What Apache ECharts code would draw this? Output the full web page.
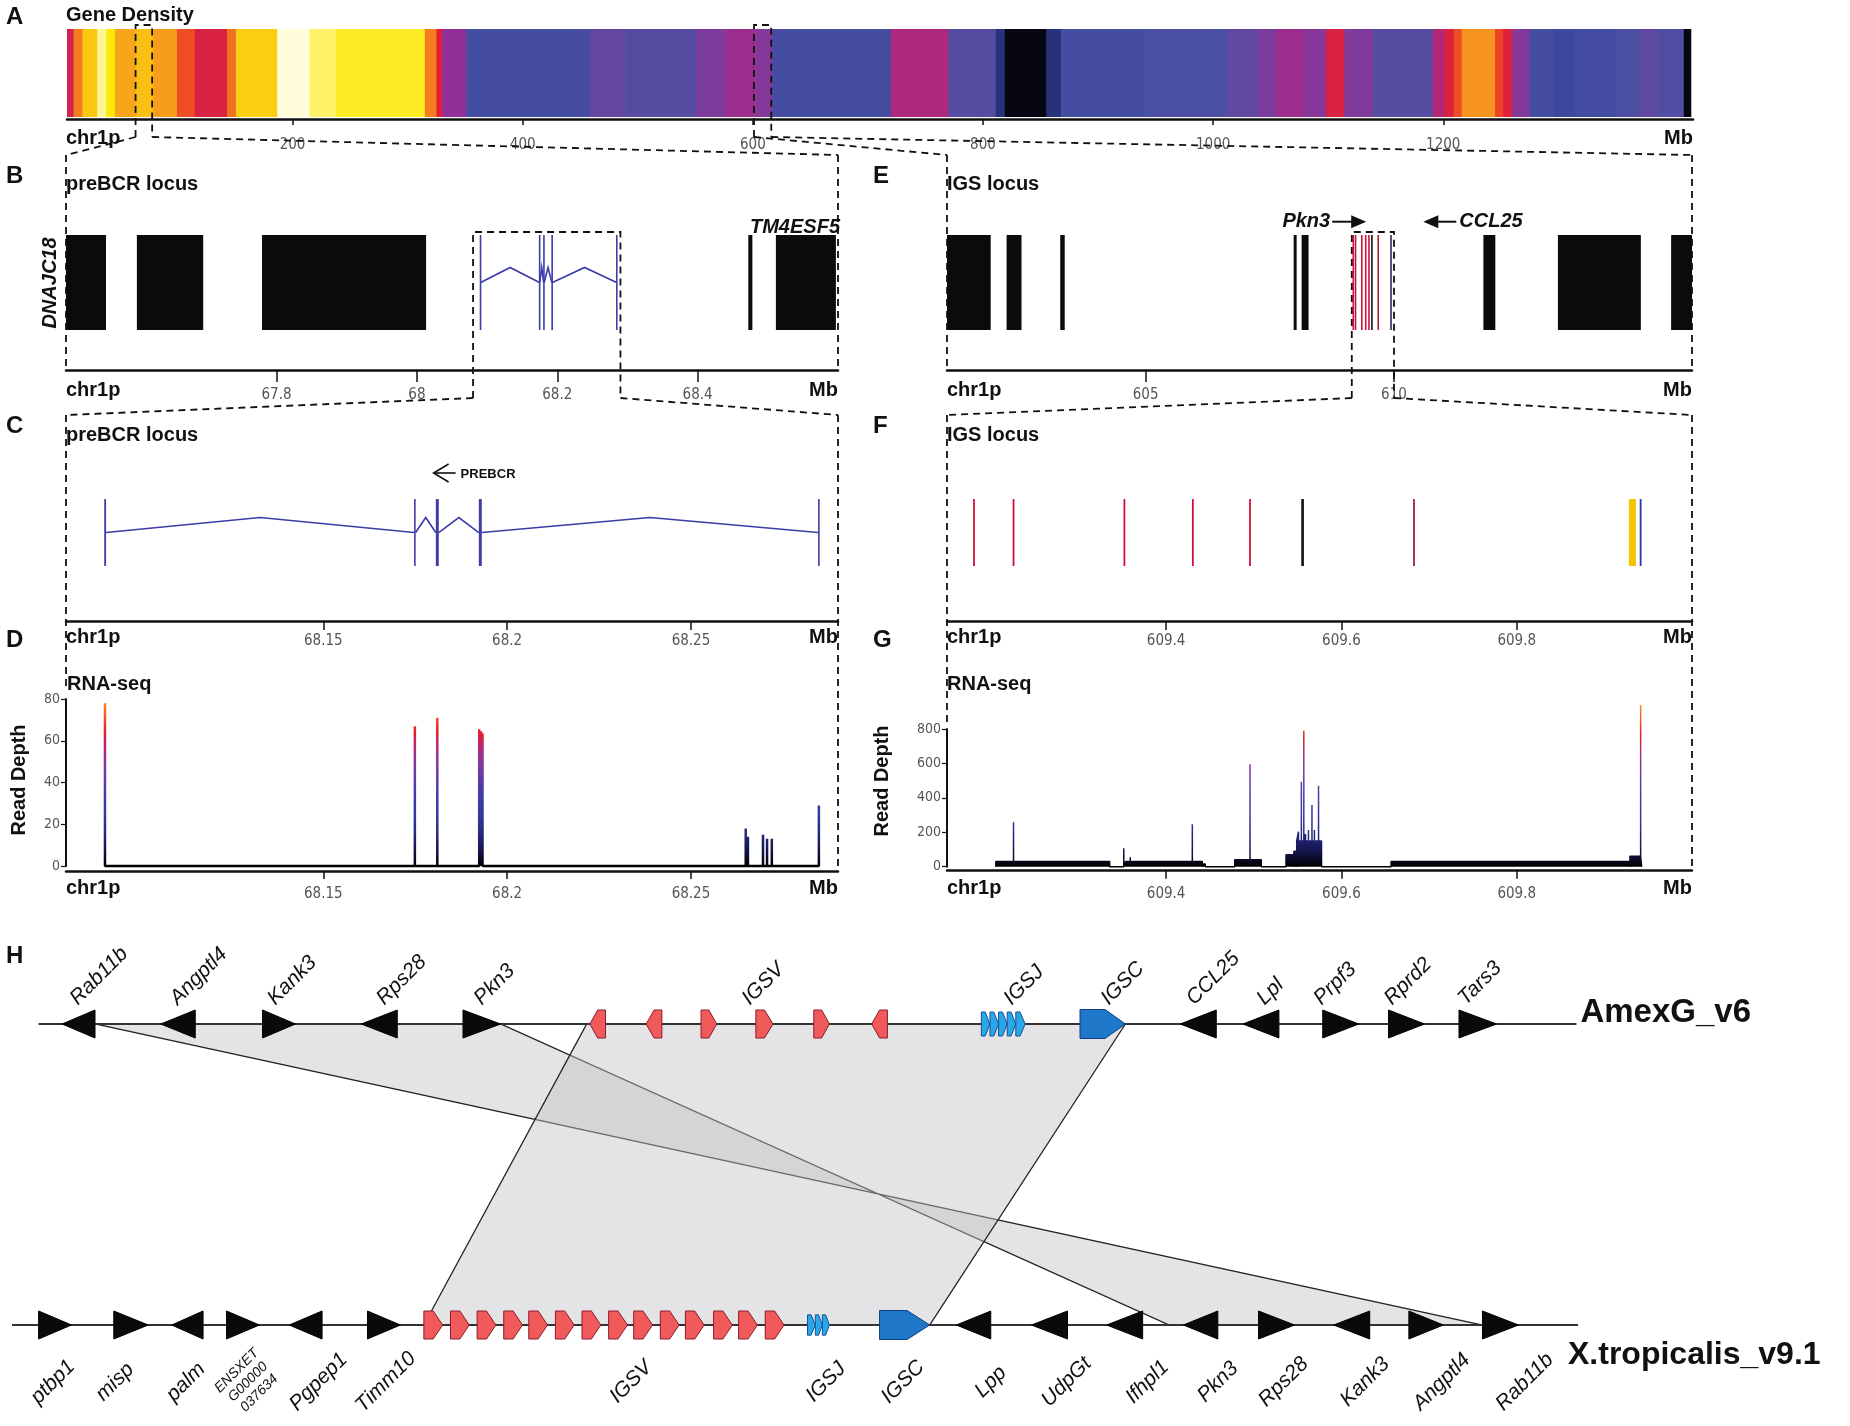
<!DOCTYPE html>
<html>
<head>
<meta charset="utf-8">
<title>Gene density, preBCR and IGS loci, synteny</title>
<script src="https://cdn.jsdelivr.net/npm/echarts@6.0.0/dist/echarts.min.js"></script>
<style>
html,body{margin:0;padding:0;background:#ffffff;}
#chart{width:1850px;height:1426px;}
</style>
</head>
<body>
<div id="chart"></div>
<script>
// ================= DATA =================
// Panel A: gene density along chr1p  [startMb, endMb, density 0-100]
const densitySegments = [
 [4, 9.7, 64], [9.7, 17.4, 78], [17.4, 30.3, 86], [30.3, 38, 96], [38, 45.6, 90],
 [45.6, 63.6, 82], [63.6, 79, 85], [79, 99.5, 81], [99.5, 114.9, 74], [114.9, 143, 66],
 [143, 150.8, 77], [150.8, 186.7, 87], [186.7, 214.9, 99], [214.9, 238, 94], [238, 315, 91],
 [315, 325, 78], [325, 330, 68], [330, 350.8, 50], [350.8, 458.5, 27], [458.5, 489, 38],
 [489, 551, 33], [551, 576, 44], [576, 602, 52], [602, 617, 46], [617, 720, 27],
 [720, 770, 55], [770, 811, 33], [811, 819, 14], [819, 855, 2], [855, 867.6, 14],
 [867.6, 940, 27], [940, 1011, 30], [1011, 1039, 36], [1039, 1055, 44], [1055, 1078, 52],
 [1078, 1098, 47], [1098, 1114, 66], [1114, 1139, 45], [1139, 1191, 33], [1191, 1201, 56],
 [1201, 1209, 67], [1209, 1216, 74], [1216, 1245, 80], [1245, 1252, 73], [1252, 1260, 67],
 [1260, 1275, 46], [1275, 1296, 27], [1296, 1314, 20], [1314, 1350, 26], [1350, 1370, 30],
 [1370, 1386, 36], [1386, 1409, 32], [1409, 1415, 2]
];
const densityTicks = [200, 400, 600, 800, 1000, 1200];
const densityBoxes = [[63.6, 78], [601, 616]];

// Panel B: preBCR locus (Mb)
const preBcrBlocks = [[67.5, 67.557], [67.601, 67.6955], [67.7793, 68.0131], [68.4722, 68.478], [68.5115, 68.597]];
const preBcrTicks = [67.8, 68, 68.2, 68.4];
// PREBCR gene exons (Mb), shown in B and C
const preBcrExons = [[68.0904, 68.0909], [68.1747, 68.1751], [68.1806, 68.1814], [68.1923, 68.1931], [68.2846, 68.285]];
const preBcrZoomRange = [68.08, 68.29];
const preBcrZoomTicks = [68.15, 68.2, 68.25];

// Panel E: IGS locus (Mb)
const igsBlocks = [[601.0, 601.88], [602.2, 602.5], [603.28, 603.37], [607.98, 608.04], [608.14, 608.28],
                   [611.8, 612.04], [613.3, 614.97], [615.58, 616.0]];
const igsTicks = [605, 610];
// IGS features [start, end, type]; type: 0 IGSV, 1 other gene, 2 IGSV (pseudo), 3 IGSC, 4 IGSJ
const igsFeatures = [[609.1799, 609.1817, 0], [609.225, 609.2268, 0], [609.3515, 609.3533, 0], [609.4296, 609.4314, 0],
                     [609.4948, 609.4966, 0], [609.5542, 609.5572, 1], [609.6819, 609.6837, 2], [609.928, 609.936, 3],
                     [609.9406, 609.9422, 4]];
const igsZoomRange = [609.15, 610.0];
const igsZoomTicks = [609.4, 609.6, 609.8];

// Panel D: RNA-seq read depth peaks over preBCR [Mb, depth]
const preBcrPeaks = [[68.0906, 78], [68.1749, 67], [68.181, 71], [68.1924, 65.5], [68.1929, 64.5], [68.1933, 63.5],
                     [68.2649, 18], [68.2655, 14], [68.2696, 15], [68.2707, 13], [68.272, 13], [68.2848, 29]];
const readDepthTicksD = [0, 20, 40, 60, 80];

// Panel G: RNA-seq over IGS: background coverage [start, end, depth] and peaks [Mb, depth]
const igsFloors = [[609.2057, 609.3356, 30], [609.3538, 609.4413, 30], [609.4416, 609.4447, 15], [609.4783, 609.5086, 40],
                   [609.5368, 609.5456, 70], [609.5458, 609.5490, 90], [609.5490, 609.5773, 150], [609.6567, 609.9292, 30],
                   [609.9292, 609.9425, 60]];
const igsPeaks = [[609.2259, 258], [609.3517, 107], [609.3591, 55], [609.4299, 246], [609.4957, 595], [609.551, 203],
                  [609.5543, 494], [609.5571, 790], [609.5591, 190], [609.5624, 213], [609.5664, 359], [609.5692, 213],
                  [609.5739, 471], [609.9414, 940]];
const readDepthTicksG = [0, 200, 400, 600, 800];

// Panel H: synteny (positions in % of track length). [start, end, direction]
const topGenes = [[3.2, 5.3, -1], [9.5, 11.7, -1], [16.0, 18.1, 1], [22.3, 24.6, -1], [28.8, 31.2, 1],
                  [74.6, 76.9, -1], [78.6, 80.9, -1], [83.7, 86.0, 1], [87.9, 90.2, 1], [92.4, 94.8, 1]];
const topIGSV = [[36.9, 37.9, -1], [40.5, 41.5, -1], [44.0, 45.0, 1], [47.5, 48.6, 1], [51.2, 52.2, 1], [54.9, 55.9, -1]];
const topIGSJ = [[61.9, 62.45, 1], [62.45, 63.0, 1], [63.0, 63.55, 1], [63.55, 64.1, 1], [64.1, 64.7, 1]];
const topIGSC = [[68.2, 71.1, 1]];
const botGenes = [[1.7, 3.8, 1], [6.5, 8.7, 1], [10.2, 12.2, -1], [13.7, 15.8, 1], [17.7, 19.8, -1], [22.7, 24.8, 1],
                  [60.3, 62.5, -1], [65.1, 67.4, -1], [69.9, 72.2, -1], [74.8, 77.0, -1], [79.6, 81.9, 1],
                  [84.4, 86.7, -1], [89.2, 91.4, 1], [93.9, 96.2, 1]];
const botIGSV = [[26.3, 27.5, 1], [28.0, 29.2, 1], [29.7, 30.9, 1], [31.4, 32.6, 1], [33.0, 34.2, 1], [34.7, 35.9, 1],
                 [36.4, 37.6, 1], [38.1, 39.3, 1], [39.7, 40.9, 1], [41.4, 42.6, 1], [43.0, 44.2, 1], [44.8, 46.0, 1],
                 [46.4, 47.6, 1], [48.1, 49.3, 1]];
const botIGSJ = [[50.8, 51.3, 1], [51.3, 51.75, 1], [51.75, 52.2, 1]];
const botIGSC = [[55.4, 58.6, 1]];
const topLabels = [['Rab11b', 3.77], ['Angptl4', 10.15], ['Kank3', 16.38], ['Rps28', 23.35], ['Pkn3', 29.57],
                   ['IGSV', 46.68], ['IGSJ', 63.4], ['IGSC', 69.6], ['CCL25', 75.07], ['Lpl', 79.56], ['Prpf3', 83.2],
                   ['Rprd2', 87.7], ['Tars3', 92.4]];
const botLabels = [['ptbp1', 2.62], ['misp', 6.58], ['palm', 11.11], ['ENSXET\nG00000\n037634', 15.07], ['Pgpep1', 19.58],
                   ['Timm10', 23.88], ['IGSV', 39.53], ['IGSJ', 51.98], ['IGSC', 56.9], ['Lpp', 62.5], ['UdpGt', 67.34],
                   ['Ifhpl1', 72.51], ['Pkn3', 77.01], ['Rps28', 81.2], ['Kank3', 86.4], ['Angptl4', 91.3], ['Rab11b', 96.6]];
// syntenic blocks: [topFirst, topLast, bottomFirst, bottomLast]
const syntenyBlocks = [[5.3, 31.2, 93.9, 73.9], [36.7, 71.1, 26.3, 58.6]];
const trackLines = [[1.7, 99.9, 1], [0, 100, 0]];
const trackNames = ['AmexG_v6', 'X.tropicalis_v9.1'];

// ================= STYLE / LAYOUT =================
const SANS = '"Liberation Sans", Arial, Helvetica, sans-serif';
const NARROW = '"Liberation Sans Narrow", "DejaVu Sans Condensed", "Liberation Sans", sans-serif';
const LAYOUT = {
  A: {left: 67, top: 29, width: 1626, height: 88},
  B: {left: 66, top: 155, width: 772, height: 215},
  E: {left: 947, top: 155, width: 745, height: 215},
  C: {left: 66, top: 415, width: 772, height: 206},
  F: {left: 947, top: 415, width: 745, height: 206},
  D: {left: 66, top: 699, width: 772, height: 167},
  G: {left: 947, top: 729, width: 745, height: 137.7},
  H: {left: 12, top: 1024, width: 1566, height: 301}
};
const ORDER = ['A', 'B', 'E', 'C', 'F', 'D', 'G', 'H'];
const GI = {}; ORDER.forEach((k, i) => GI[k] = i);
const DENSITY_COLORS = ['#000000', '#1e2260', '#3a48a0', '#4a4fa2', '#6d45a0', '#922f96', '#c62363', '#e6202a', '#f7941d', '#fde90c', '#fffff0'];
const COVERAGE_COLORS = ['#000000', '#151550', '#26287f', '#3636a0', '#3c3caa', '#5a3aa8', '#7a3aa0', '#b0287e', '#e41e2b', '#f05a24', '#f7941d'];
const FEATURE_COLORS = ['#d0103a', '#111111', '#a3203a', '#f2c500', '#3434a0'];
const GENE_BLUE = '#3c3ca8';

// ================= HELPERS =================
function buildProfile(floors, peaks, start, end) {
  const ord = {fe: 0, p: 1, fs: 2};
  const ev = [];
  floors.forEach(f => { ev.push([f[0], 'fs', f]); ev.push([f[1], 'fe', f]); });
  peaks.forEach(p => ev.push([p[0], 'p', p]));
  ev.sort((a, b) => (a[0] - b[0]) || (ord[a[1]] - ord[b[1]]));
  const levelAt = x => { for (const f of floors) { if (x > f[0] && x < f[1]) return f[2]; } return 0; };
  const pts = [[start, 0]];
  ev.forEach(e => {
    const x = e[0];
    if (e[1] === 'fs') { pts.push([x, 0], [x, e[2][2]]); }
    else if (e[1] === 'fe') { pts.push([x, e[2][2]], [x, 0]); }
    else { const l = levelAt(x); pts.push([x, l], [x, e[2][1]], [x, l]); }
  });
  pts.push([end, 0]);
  return pts;
}
function blockRender(y0, y1, minW, fillFn) {
  return function (params, api) {
    const a = api.coord([api.value(0), y1]);
    const b = api.coord([api.value(1), y0]);
    let w = b[0] - a[0], x = a[0];
    if (w < minW) { x = (a[0] + b[0]) / 2 - minW / 2; w = minW; }
    return {type: 'rect', shape: {x: x, y: a[1], width: w, height: b[1] - a[1]}, style: {fill: fillFn(api)}};
  };
}
function geneRender(y0, y1, minW, peak) {
  const ym = (y0 + y1) / 2;
  return function (params, api) {
    const s = api.value(0), e = api.value(1), n = api.value(2);
    const a = api.coord([s, y1]), b = api.coord([e, y0]);
    const w = Math.max(b[0] - a[0], minW), cx = (a[0] + b[0]) / 2;
    const children = [{type: 'rect', shape: {x: cx - w / 2, y: a[1], width: w, height: b[1] - a[1]}, style: {fill: GENE_BLUE}}];
    if (n > e) {
      const p = api.coord([e, ym]), q = api.coord([n, ym]);
      children.push({type: 'polyline', shape: {points: [[p[0], p[1]], [(p[0] + q[0]) / 2, p[1] - peak], [q[0], q[1]]]},
        style: {stroke: GENE_BLUE, lineWidth: 1.6, fill: null}});
    }
    return {type: 'group', children: children};
  };
}
const exonData = preBcrExons.map((e, i, arr) => [e[0], e[1], i < arr.length - 1 ? arr[i + 1][0] : e[1]]);

const SHAPES = {
  tri: {half: 14, fill: '#0a0a0a', stroke: '#000000', lw: 1},
  V: {half: 14, fill: '#f05a5a', stroke: '#8b1c2c', lw: 1, body: 0.5},
  J: {half: 12, fill: '#2aa7e6', stroke: '#1a4f9a', lw: 1, body: 0.45},
  C: {half: 14.5, fill: '#1f77c9', stroke: '#0f3f80', lw: 1, body: 0.55}
};
function arrowSeries(data, kind) {
  const st = SHAPES[kind];
  return {
    type: 'custom', xAxisIndex: GI.H, yAxisIndex: GI.H, data: data, z: 4, silent: true,
    renderItem: function (params, api) {
      const s = api.coord([api.value(0), api.value(2)]);
      const e = api.coord([api.value(1), api.value(2)]);
      const dir = api.value(3), h = st.half * (api.value(2) === 0 && kind === 'J' ? 0.85 : 1);
      const x0 = s[0], x1 = e[0], y = s[1], w = x1 - x0;
      let pts;
      if (kind === 'tri') {
        pts = dir > 0 ? [[x0, y - h], [x1, y], [x0, y + h]] : [[x1, y - h], [x0, y], [x1, y + h]];
      } else {
        const b = w * st.body;
        pts = dir > 0 ? [[x0, y - h], [x0 + b, y - h], [x1, y], [x0 + b, y + h], [x0, y + h]]
                      : [[x1, y - h], [x1 - b, y - h], [x0, y], [x1 - b, y + h], [x1, y + h]];
      }
      return {type: 'polygon', shape: {points: pts}, style: {fill: st.fill, stroke: st.stroke, lineWidth: st.lw}};
    }
  };
}
const withTrack = (arr, t) => arr.map(g => [g[0], g[1], t, g[2]]);

function trackXAxis(key, min, max, ticks, tickLen, margin, offset) {
  return {
    gridIndex: GI[key], type: 'value', min: min, max: max, position: 'bottom', offset: offset || 0,
    axisLine: {show: true, onZero: false, lineStyle: {color: '#111', width: 2.5}},
    axisTick: {show: true, length: tickLen, customValues: ticks, lineStyle: {color: '#111', width: 1.5}},
    axisLabel: {show: true, customValues: ticks, margin: margin, color: '#555', fontSize: 15, fontFamily: NARROW,
      formatter: v => String(+(+v).toFixed(2))},
    splitLine: {show: false}
  };
}
function depthYAxis(key, max, interval) {
  return {
    gridIndex: GI[key], type: 'value', min: 0, max: max, interval: interval,
    axisLine: {show: true, lineStyle: {color: '#111', width: 2}},
    axisTick: {show: true, length: 5, lineStyle: {color: '#111', width: 1.2}},
    axisLabel: {color: '#555', fontSize: 14, fontFamily: NARROW, margin: 6},
    splitLine: {show: false}
  };
}
const hidY = key => ({gridIndex: GI[key], type: 'value', min: 0, max: 1, show: false});

// ================= OPTION =================
const chart = echarts.init(document.getElementById('chart'), null, {width: 1850, height: 1426});
const option = {
  backgroundColor: '#ffffff',
  animation: false,
  grid: ORDER.map(k => ({left: LAYOUT[k].left, top: LAYOUT[k].top, width: LAYOUT[k].width, height: LAYOUT[k].height,
                          containLabel: false, outerBoundsMode: 'none'})),
  xAxis: [
    trackXAxis('A', 4, 1417, densityTicks, 6, 19, 2),
    trackXAxis('B', 67.5, 68.6, preBcrTicks, 12, 18, 0),
    trackXAxis('E', 601, 616, igsTicks, 12, 18, 0),
    trackXAxis('C', preBcrZoomRange[0], preBcrZoomRange[1], preBcrZoomTicks, 9, 13, 0),
    trackXAxis('F', igsZoomRange[0], igsZoomRange[1], igsZoomTicks, 9, 13, 0),
    trackXAxis('D', preBcrZoomRange[0], preBcrZoomRange[1], preBcrZoomTicks, 8, 16, 5),
    trackXAxis('G', igsZoomRange[0], igsZoomRange[1], igsZoomTicks, 8, 16, 4),
    {gridIndex: GI.H, type: 'value', min: 0, max: 100, show: false}
  ],
  yAxis: [hidY('A'), hidY('B'), hidY('E'), hidY('C'), hidY('F'),
          depthYAxis('D', 80, 20), depthYAxis('G', 800, 200), hidY('H')],
  visualMap: [
    {type: 'continuous', show: false, seriesIndex: 0, dimension: 2, min: 0, max: 100, inRange: {color: DENSITY_COLORS}},
    {type: 'continuous', show: false, seriesIndex: 7, dimension: 1, min: 0, max: 80, inRange: {color: COVERAGE_COLORS}},
    {type: 'continuous', show: false, seriesIndex: 8, dimension: 1, min: 0, max: 950, inRange: {color: COVERAGE_COLORS}}
  ],
  series: [
    // 0 gene density
    {type: 'custom', name: 'Gene Density', xAxisIndex: GI.A, yAxisIndex: GI.A, data: densitySegments, silent: true,
     renderItem: function (params, api) {
       const a = api.coord([api.value(0), 1]), b = api.coord([api.value(1), 0]);
       return {type: 'rect', shape: {x: a[0], y: a[1], width: b[0] - a[0] + 0.6, height: b[1] - a[1]}, style: {fill: api.visual('color')}};
     }},
    // 1 preBCR blocks
    {type: 'custom', xAxisIndex: GI.B, yAxisIndex: GI.B, data: preBcrBlocks, silent: true, renderItem: blockRender(0.186, 0.628, 2, () => '#0b0b0b')},
    // 2 preBCR gene in B
    {type: 'custom', xAxisIndex: GI.B, yAxisIndex: GI.B, data: exonData, silent: true, renderItem: geneRender(0.186, 0.628, 1.6, 15)},
    // 3 IGS blocks
    {type: 'custom', xAxisIndex: GI.E, yAxisIndex: GI.E, data: igsBlocks, silent: true, renderItem: blockRender(0.186, 0.628, 2, () => '#0b0b0b')},
    // 4 IGS features in E
    {type: 'custom', xAxisIndex: GI.E, yAxisIndex: GI.E, data: igsFeatures, silent: true, renderItem: blockRender(0.186, 0.628, 1.6, api => FEATURE_COLORS[api.value(2)])},
    // 5 preBCR gene in C
    {type: 'custom', xAxisIndex: GI.C, yAxisIndex: GI.C, data: exonData, silent: true, renderItem: geneRender(0.267, 0.592, 1.6, 15)},
    // 6 IGS features in F
    {type: 'custom', xAxisIndex: GI.F, yAxisIndex: GI.F, data: igsFeatures, silent: true, renderItem: blockRender(0.267, 0.592, 1.8, api => FEATURE_COLORS[api.value(2)])},
    // 7 RNA-seq preBCR
    {type: 'line', name: 'RNA-seq preBCR', xAxisIndex: GI.D, yAxisIndex: GI.D, silent: true, showSymbol: false, clip: false,
     data: buildProfile([], preBcrPeaks, preBcrPeaks[0][0], preBcrPeaks[preBcrPeaks.length - 1][0]),
     lineStyle: {width: 2.5}, areaStyle: {opacity: 1}},
    // 8 RNA-seq IGS
    {type: 'line', name: 'RNA-seq IGS', xAxisIndex: GI.G, yAxisIndex: GI.G, silent: true, showSymbol: false, clip: false,
     data: buildProfile(igsFloors, igsPeaks, igsFloors[0][0], igsFloors[igsFloors.length - 1][1]),
     lineStyle: {width: 1.5}, areaStyle: {opacity: 1}},
    // 9 synteny polygons
    {type: 'custom', xAxisIndex: GI.H, yAxisIndex: GI.H, data: syntenyBlocks, silent: true, z: 1,
     renderItem: function (params, api) {
       const p = [api.coord([api.value(0), 1]), api.coord([api.value(1), 1]), api.coord([api.value(3), 0]), api.coord([api.value(2), 0])];
       return {type: 'polygon', shape: {points: p}, style: {fill: 'rgba(196,196,200,0.45)', stroke: '#222', lineWidth: 1.3}};
     }},
    // 10 track lines
    {type: 'custom', xAxisIndex: GI.H, yAxisIndex: GI.H, data: trackLines, silent: true, z: 2,
     renderItem: function (params, api) {
       const a = api.coord([api.value(0), api.value(2)]), b = api.coord([api.value(1), api.value(2)]);
       return {type: 'line', shape: {x1: a[0], y1: a[1], x2: b[0], y2: b[1]}, style: {stroke: '#333', lineWidth: 2}};
     }},
    // 11-14 gene arrows
    arrowSeries(withTrack(topGenes, 1).concat(withTrack(botGenes, 0)), 'tri'),
    arrowSeries(withTrack(topIGSV, 1).concat(withTrack(botIGSV, 0)), 'V'),
    arrowSeries(withTrack(topIGSJ, 1).concat(withTrack(botIGSJ, 0)), 'J'),
    arrowSeries(withTrack(topIGSC, 1).concat(withTrack(botIGSC, 0)), 'C'),
    // 15 top labels
    {type: 'custom', xAxisIndex: GI.H, yAxisIndex: GI.H, data: topLabels.map(l => [l[1], 1]), silent: true, z: 5,
     renderItem: function (params, api) {
       const p = api.coord([api.value(0), 1]);
       return {type: 'text', x: p[0] + 10, y: p[1] - 15, rotation: Math.PI / 4,
         style: {text: topLabels[params.dataIndex][0], fontSize: 21, fontStyle: 'italic', fontFamily: SANS, fill: '#111', align: 'left', verticalAlign: 'bottom'}};
     }},
    // 16 bottom labels
    {type: 'custom', xAxisIndex: GI.H, yAxisIndex: GI.H, data: botLabels.map(l => [l[1], 0]), silent: true, z: 5,
     renderItem: function (params, api) {
       const p = api.coord([api.value(0), 0]);
       const name = botLabels[params.dataIndex][0];
       const multi = name.indexOf('\n') >= 0;
       return {type: 'text', x: p[0], y: p[1] + 57, rotation: Math.PI / 4,
         style: {text: name, fontSize: multi ? 14 : 21, lineHeight: multi ? 16 : 23, fontStyle: 'italic', fontFamily: SANS, fill: '#111', align: 'center', verticalAlign: 'middle'}};
     }}
  ]
};
chart.setOption(option);

// ================= ANNOTATIONS (zoom boxes, labels) =================
const px = (key, x) => chart.convertToPixel({gridIndex: GI[key]}, [x, 0])[0];
const R = k => ({l: LAYOUT[k].left, r: LAYOUT[k].left + LAYOUT[k].width, t: LAYOUT[k].top, b: LAYOUT[k].top + LAYOUT[k].height});
const DASH = {stroke: '#111', lineWidth: 1.8, lineDash: [7, 5], fill: null};
const els = [];
const dline = pts => els.push({type: 'polyline', silent: true, z: 40, shape: {points: pts}, style: DASH});
const txt = (text, x, y, font, align, va, rot, fill) => els.push({type: 'text', x: x, y: y, rotation: rot || 0, silent: true, z: 50,
  style: {text: text, font: font, fill: fill || '#111', align: align || 'left', verticalAlign: va || 'middle'}});

const rB = R('B'), rE = R('E'), rC = R('C'), rF = R('F'), rD = R('D'), rG = R('G'), rA = R('A');
// A boxes -> B and E
[[densityBoxes[0], rB], [densityBoxes[1], rE]].forEach(([bx, tgt]) => {
  const x0 = px('A', bx[0]), x1 = px('A', bx[1]);
  dline([[x0, 137], [x0, 25], [x1, 25], [x1, 137]]);
  dline([[x0, 137], [tgt.l, 155]]);
  dline([[x1, 137], [tgt.r, 155]]);
});
// outer verticals of B, E
[rB, rE].forEach(r => { dline([[r.l, 155], [r.l, r.b]]); dline([[r.r, 155], [r.r, r.b]]); });
// inner boxes B->C, E->F
[['B', preBcrZoomRange, rC], ['E', igsZoomRange, rF]].forEach(([k, rg, tgt]) => {
  const x0 = px(k, rg[0]), x1 = px(k, rg[1]);
  dline([[x0, 398], [x0, 232], [x1, 232], [x1, 398]]);
  dline([[x0, 398], [tgt.l, 415]]);
  dline([[x1, 398], [tgt.r, 415]]);
});
// C/D and F/G side lines
dline([[rC.l, 415], [rC.l, 690]]); dline([[rC.r, 415], [rC.r, 870]]);
dline([[rF.l, 415], [rF.l, 722]]); dline([[rF.r, 415], [rF.r, 867]]);

const BOLD20 = 'bold 20px ' + SANS;
const LET = 'bold 24px ' + SANS;
// panel letters
[['A', 6, 17], ['B', 6, 176], ['C', 6, 426], ['D', 6, 640], ['E', 873, 176], ['F', 873, 426], ['G', 873, 640], ['H', 6, 956]]
  .forEach(l => txt(l[0], l[1], l[2], LET));
// titles
txt('Gene Density', rA.l - 1, 15, BOLD20);
txt('preBCR locus', rB.l, 184, BOLD20); txt('IGS locus', rE.l, 184, BOLD20);
txt('preBCR locus', rC.l, 435, BOLD20); txt('IGS locus', rF.l, 435, BOLD20);
txt('RNA-seq', rD.l + 1, 684, BOLD20); txt('RNA-seq', rG.l, 684, BOLD20);
txt('Read Depth', 19, 780, BOLD20, 'center', 'middle', Math.PI / 2);
txt('Read Depth', 882, 781, BOLD20, 'center', 'middle', Math.PI / 2);
// chr1p / Mb
[[rA, 138], [rB, 390], [rE, 390], [rC, 637], [rF, 637], [rD, 888], [rG, 888]].forEach(([r, y]) => {
  txt('chr1p', r === rA ? r.l - 1 : r.l, y, BOLD20, 'left');
  txt('Mb', r.r, y, BOLD20, 'right');
});
// gene names in B
txt('TM4ESF5', rB.r + 2, 227, 'italic bold 20px ' + SANS, 'right');
txt('DNAJC18', 50, 283, 'italic bold 20px ' + SANS, 'center', 'middle', Math.PI / 2);
// E arrows
const yE = 221.7;
{
  const t = px('E', 609.44);
  els.push({type: 'line', silent: true, z: 50, shape: {x1: t - 34, y1: yE, x2: t - 10, y2: yE}, style: {stroke: '#111', lineWidth: 2}});
  els.push({type: 'polygon', silent: true, z: 50, shape: {points: [[t, yE], [t - 15, yE - 6.5], [t - 15, yE + 6.5]]}, style: {fill: '#111'}});
  txt('Pkn3', t - 36, yE, 'italic bold 20px ' + SANS, 'right');
  const c = px('E', 610.59);
  els.push({type: 'line', silent: true, z: 50, shape: {x1: c + 10, y1: yE, x2: c + 33, y2: yE}, style: {stroke: '#111', lineWidth: 2}});
  els.push({type: 'polygon', silent: true, z: 50, shape: {points: [[c, yE], [c + 15, yE - 6.5], [c + 15, yE + 6.5]]}, style: {fill: '#111'}});
  txt('CCL25', c + 36, yE, 'italic bold 20px ' + SANS, 'left');
}
// C arrow PREBCR
{
  const t = px('C', 68.18), y = 473;
  els.push({type: 'polyline', silent: true, z: 50, shape: {points: [[t + 15, y - 9], [t, y], [t + 15, y + 9]]}, style: {stroke: '#111', lineWidth: 1.6, fill: null}});
  els.push({type: 'line', silent: true, z: 50, shape: {x1: t, y1: y, x2: t + 22, y2: y}, style: {stroke: '#111', lineWidth: 1.6}});
  txt('PREBCR', t + 27, y + 1, 'bold 13px ' + SANS, 'left');
}
// track names in H
{
  const topEnd = chart.convertToPixel({gridIndex: GI.H}, [trackLines[0][1], 1]);
  const botEnd = chart.convertToPixel({gridIndex: GI.H}, [trackLines[1][1], 0]);
  txt(trackNames[0], topEnd[0] + 4, topEnd[1] - 11, 'bold 33px ' + SANS, 'left');
  txt(trackNames[1], botEnd[0] - 10, botEnd[1] + 30, 'bold 32px ' + SANS, 'left');
}
chart.setOption({graphic: {elements: els}});
</script>
</body>
</html>
